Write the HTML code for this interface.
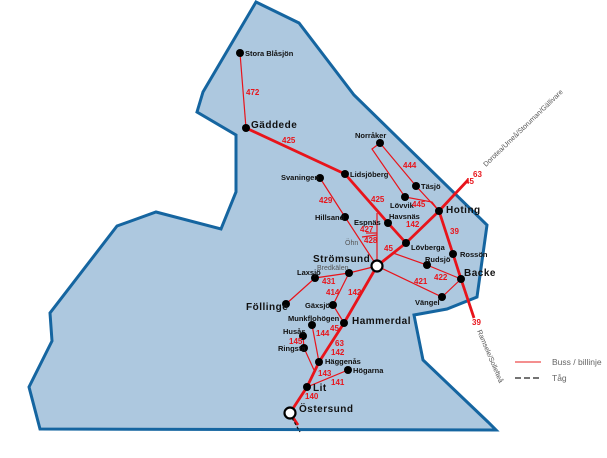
<!DOCTYPE html>
<html><head><meta charset="utf-8"><style>
html,body{margin:0;padding:0;background:#fff;width:607px;height:458px;overflow:hidden}
svg text{font-family:"Liberation Sans",sans-serif}
.n{font-size:7.5px;font-weight:bold;fill:#111}
.b{font-size:10px;font-weight:bold;fill:#111;letter-spacing:0.5px}
.r{font-size:8px;font-weight:bold;fill:#e8141b}
.g{font-size:7px;fill:#555}
</style></head><body>
<svg width="607" height="458" viewBox="0 0 607 458" xmlns="http://www.w3.org/2000/svg">
<polygon points="256,2 299,23 354,95 487,225 477,297 447,309 414,315 423,360 488,422 496,430 40,429 29,387 52,341 50,313 117,226 156,212 221,229 236,192 236,135 197,112 203,92" fill="#adc8df" stroke="#1565a0" stroke-width="3" stroke-linejoin="miter"/>
<g stroke="#e8141b" fill="none" stroke-width="1.2">
<line x1="240" y1="53" x2="246" y2="128"/>
<polyline points="380,143 416,186 439,211"/>
<polyline points="380,143 372,149 405,197 432,202 439,211"/>
<polyline points="320,178 345,217 377,266"/>
<line x1="377" y1="213" x2="377" y2="266"/>
<line x1="366" y1="233" x2="377" y2="233"/>
<line x1="362" y1="237" x2="377" y2="235"/>
<polyline points="393,253 427,265 461,279"/>
<polyline points="377,266 442,297 461,279"/>
<polyline points="377,266 349,273 315,278 286,304"/>
<polyline points="349,273 333,305 344,323"/>
<line x1="312" y1="325" x2="319" y2="362"/>
<polyline points="303,336 304,348 314,370"/>
<line x1="307" y1="387" x2="348" y2="370"/>
</g>
<g stroke="#e8141b" fill="none" stroke-width="2.8">
<polyline points="246,128 345,174 388,223 406,243"/>
<polyline points="377,266 406,243 439,211 468,180"/>
<polyline points="439,211 453,254 461,279 474,318"/>
<polyline points="377,266 344,323 319,362 307,387 290,413 298,425"/>
</g>
<line x1="292" y1="418" x2="300" y2="432" stroke="#111" stroke-width="1.2" stroke-dasharray="3,2"/>
<g fill="#000">
<circle cx="240" cy="53" r="4"/><circle cx="246" cy="128" r="4"/><circle cx="345" cy="174" r="4"/>
<circle cx="320" cy="178" r="4"/><circle cx="380" cy="143" r="4"/><circle cx="416" cy="186" r="4"/>
<circle cx="405" cy="197" r="4"/><circle cx="439" cy="211" r="4"/><circle cx="345" cy="217" r="4"/>
<circle cx="388" cy="223" r="4"/><circle cx="406" cy="243" r="4"/><circle cx="453" cy="254" r="4"/>
<circle cx="427" cy="265" r="4"/><circle cx="461" cy="279" r="4"/><circle cx="442" cy="297" r="4"/>
<circle cx="349" cy="273" r="4"/><circle cx="315" cy="278" r="4"/><circle cx="286" cy="304" r="4"/>
<circle cx="333" cy="305" r="4"/><circle cx="344" cy="323" r="4"/><circle cx="312" cy="325" r="4"/>
<circle cx="303" cy="336" r="4"/><circle cx="304" cy="348" r="4"/><circle cx="319" cy="362" r="4"/>
<circle cx="348" cy="370" r="4"/><circle cx="307" cy="387" r="4"/>
</g>
<circle cx="377" cy="266" r="5.5" fill="#fff" stroke="#000" stroke-width="2.2"/>
<circle cx="290" cy="413" r="5.5" fill="#fff" stroke="#000" stroke-width="2.2"/>
<text class="n" x="245" y="56">Stora Blåsjön</text>
<text class="b" x="251" y="128">Gäddede</text>
<text class="n" x="350" y="177">Lidsjöberg</text>
<text class="n" x="281" y="180">Svaningen</text>
<text class="n" x="355" y="138">Norråker</text>
<text class="n" x="421" y="189">Täsjö</text>
<text class="n" x="390" y="208">Lövvik</text>
<text class="b" x="446" y="213">Hoting</text>
<text class="n" x="315" y="220">Hillsand</text>
<text class="n" x="389" y="219">Havsnäs</text>
<text class="n" x="354" y="225">Espnäs</text>
<text class="g" x="345" y="245">Öhn</text>
<text class="n" x="411" y="250">Lövberga</text>
<text class="n" x="460" y="257">Rossön</text>
<text class="n" x="425" y="262">Rudsjö</text>
<text class="b" x="464" y="276">Backe</text>
<text class="n" x="415" y="305">Vängel</text>
<text class="b" x="313" y="262">Strömsund</text>
<text class="g" x="317" y="270">Bredkälen</text>
<text class="n" x="297" y="275">Laxsjö</text>
<text class="b" x="246" y="310">Föllinge</text>
<text class="n" x="305" y="308">Gäxsjö</text>
<text class="b" x="352" y="324">Hammerdal</text>
<text class="n" x="288" y="321">Munkflohögen</text>
<text class="n" x="283" y="334">Husås</text>
<text class="n" x="278" y="351">Ringsta</text>
<text class="n" x="325" y="364">Häggenås</text>
<text class="n" x="353" y="373">Högarna</text>
<text class="b" x="313" y="391">Lit</text>
<text class="b" x="299" y="412">Östersund</text>
<g class="r">
<text x="246" y="95">472</text><text x="282" y="143">425</text><text x="403" y="168">444</text>
<text x="412" y="207">445</text><text x="371" y="202">425</text><text x="319" y="203">429</text>
<text x="360" y="232">427</text><text x="364" y="243">428</text><text x="406" y="227">142</text>
<text x="384" y="251">45</text><text x="450" y="234">39</text><text x="434" y="280">422</text>
<text x="414" y="284">421</text><text x="322" y="284">431</text><text x="326" y="295">414</text>
<text x="348" y="295">142</text><text x="330" y="331">45</text><text x="316" y="336">144</text>
<text x="289" y="344">145</text><text x="335" y="346">63</text><text x="331" y="355">142</text>
<text x="318" y="376">143</text><text x="331" y="385">141</text><text x="305" y="399">140</text>
<text x="473" y="177">63</text><text x="465" y="184">45</text><text x="472" y="325">39</text>
</g>
<text class="g" font-size="6" transform="translate(486,167) rotate(-44)">Dorotea/Umeå/Storuman/Gällivare</text>
<text class="g" font-size="6" transform="translate(477,331) rotate(67)">Ramsele/Sollefteå</text>
<line x1="515" y1="362" x2="541" y2="362" stroke="#f06a6a" stroke-width="1.5"/>
<text x="552" y="365" font-size="8.5" fill="#666">Buss / billinje</text>
<line x1="515" y1="378" x2="541" y2="378" stroke="#222" stroke-width="1.2" stroke-dasharray="6,3"/>
<text x="552" y="381" font-size="8.5" fill="#666">Tåg</text>
</svg>
</body></html>
